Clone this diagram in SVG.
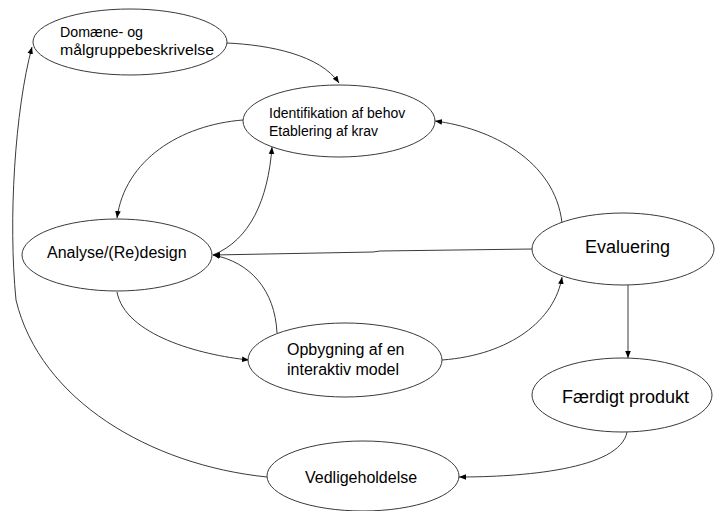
<svg xmlns="http://www.w3.org/2000/svg" width="715" height="511" viewBox="0 0 715 511">
  <style>
    .node ellipse { fill: #ffffff; stroke: #3a3a3a; stroke-width: 1; }
    .node text { font-family: "Liberation Sans", Arial, sans-serif; fill: #000000; }
    .edge { fill: none; stroke: #3a3a3a; stroke-width: 1; marker-end: url(#arrow); }
  </style>
  <defs>
    <marker id="arrow" viewBox="0 0 10 10" refX="10" refY="5" markerWidth="7" markerHeight="7" markerUnits="userSpaceOnUse" orient="auto">
      <path d="M0,1 L10,5 L0,9 Z" fill="#000000"/>
    </marker>
  </defs>
  <rect width="715" height="511" fill="#ffffff"/>

  <g id="connectors">
    <!-- Domæne -> Identifikation -->
    <path class="edge" d="M227,43 C270,45 320,55 339,83"/>
    <!-- Identifikation -> Analyse -->
    <path class="edge" d="M243,120 C180,125 125,160 117,218"/>
    <!-- Analyse -> Identifikation -->
    <path class="edge" d="M213,255 C250,240 268,200 272,147"/>
    <!-- Evaluering -> Analyse -->
    <path class="edge" d="M533,249 L380,251 L373,252 L213,255"/>
    <!-- Opbygning -> Analyse -->
    <path class="edge" d="M277,333 C275,290 250,262 213,255"/>
    <!-- Analyse -> Opbygning -->
    <path class="edge" d="M117,292 C125,335 200,355 249,360"/>
    <!-- Opbygning -> Evaluering -->
    <path class="edge" d="M442,360 C510,355 555,320 562,277"/>
    <!-- Evaluering -> Identifikation -->
    <path class="edge" d="M562,223 C555,160 490,128 435,121"/>
    <!-- Evaluering -> Færdigt produkt -->
    <path class="edge" d="M628,285 L628,358"/>
    <!-- Færdigt produkt -> Vedligeholdelse -->
    <path class="edge" d="M627,432 C620,470 520,477 459,477"/>
    <!-- Vedligeholdelse -> Domæne -->
    <path class="edge" d="M267,477 C150,465 40,400 16,300 C8,220 15,110 32,47"/>
  </g>

  <g id="domaene" class="node">
    <ellipse cx="130" cy="42" rx="97" ry="33"/>
    <text x="60" y="37" font-size="15" textLength="83" lengthAdjust="spacingAndGlyphs">Domæne- og</text>
    <text x="60" y="55" font-size="15" textLength="154" lengthAdjust="spacingAndGlyphs">målgruppebeskrivelse</text>
  </g>

  <g id="identifikation" class="node">
    <ellipse cx="339" cy="121" rx="96" ry="36"/>
    <text x="269" y="118" font-size="14">Identifikation af behov</text>
    <text x="269" y="136" font-size="14">Etablering af krav</text>
  </g>

  <g id="analyse" class="node">
    <ellipse cx="117" cy="255" rx="95" ry="36"/>
    <text x="47" y="258" font-size="16">Analyse/(Re)design</text>
  </g>

  <g id="opbygning" class="node">
    <ellipse cx="345" cy="360" rx="97" ry="37"/>
    <text x="287" y="355" font-size="16">Opbygning af en</text>
    <text x="287" y="375" font-size="16">interaktiv model</text>
  </g>

  <g id="evaluering" class="node">
    <ellipse cx="623" cy="249" rx="91" ry="36"/>
    <text x="585" y="253" font-size="18">Evaluering</text>
  </g>

  <g id="faerdigt" class="node">
    <ellipse cx="622" cy="395" rx="90" ry="37"/>
    <text x="562" y="403" font-size="18">Færdigt produkt</text>
  </g>

  <g id="vedligeholdelse" class="node">
    <ellipse cx="363" cy="476" rx="96" ry="35"/>
    <text x="305" y="483" font-size="16">Vedligeholdelse</text>
  </g>
</svg>
